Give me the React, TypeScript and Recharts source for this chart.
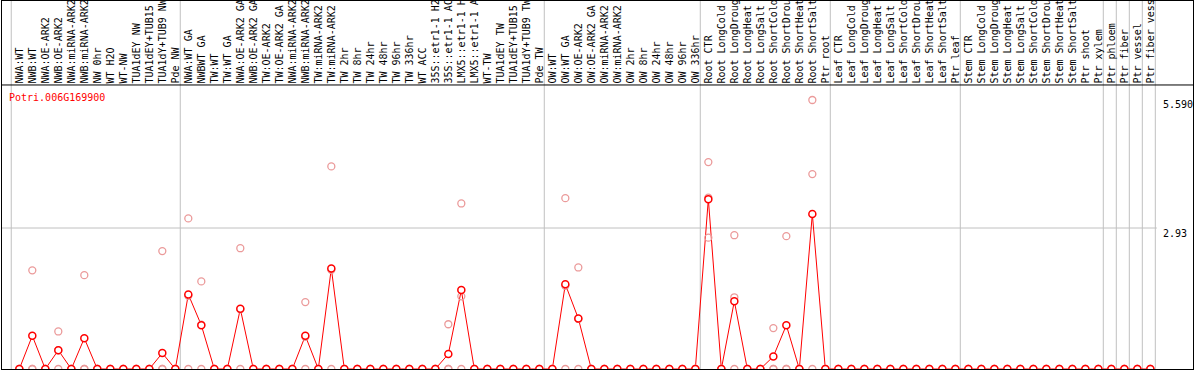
import React from "react";
import { LineChart, Line, XAxis, YAxis, ReferenceLine } from "recharts";

const FONT = '"DejaVu Sans Mono", "Liberation Mono", monospace';
const GENE = "Potri.006G169900";

// sample labels, grouped as in the header
const nwLabels = [
  "NWA:WT", "NWB:WT", "NWA:OE-ARK2", "NWB:OE-ARK2", "NWA:miRNA-ARK2", "NWB:miRNA-ARK2",
  "NW 0hr", "WT H2O", "WT-NW", "TUA1dEY NW", "TUA1dEY+TUB15", "TUA1dY+TUB9 NW", "Pde NW",
];
const twLabels = [
  "NWA:WT GA", "NWBWT GA", "TW:WT", "TW:WT GA", "NWA:OE-ARK2 GA", "NWB:OE-ARK2 GA",
  "TW:OE-ARK2", "TW:OE-ARK2 GA", "NWA:miRNA-ARK2", "NWB:miRNA-ARK2", "TW:miRNA-ARK2",
  "TW:miRNA-ARK2", "TW 2hr", "TW 8hr", "TW 24hr", "TW 48hr", "TW 96hr", "TW 336hr",
  "WT ACC", "35S::etr1-1 H2O", "35S::etr1-1 ACC", "LMX5::etr1-1 H2O", "LMX5::etr1-1 ACC",
  "WT-TW", "TUA1dEY TW", "TUA1dEY+TUB15", "TUA1dY+TUB9 TW", "Pde TW",
];
const owLabels = [
  "OW:WT", "OW:WT GA", "OW:OE-ARK2", "OW:OE-ARK2 GA", "OW:miRNA-ARK2", "OW:miRNA-ARK2",
  "OW 2hr", "OW 8hr", "OW 24hr", "OW 48hr", "OW 96hr", "OW 336hr",
];
const rootLabels = [
  "Root CTR", "Root LongCold", "Root LongDrought", "Root LongHeat", "Root LongSalt",
  "Root ShortCold", "Root ShortDrought", "Root ShortHeat", "Root ShortSalt", "Ptr root",
];
const leafLabels = [
  "Leaf CTR", "Leaf LongCold", "Leaf LongDrought", "Leaf LongHeat", "Leaf LongSalt",
  "Leaf ShortCold", "Leaf ShortDrought", "Leaf ShortHeat", "Leaf ShortSalt", "Ptr leaf",
];
const stemLabels = [
  "Stem CTR", "Stem LongCold", "Stem LongDrought", "Stem LongHeat", "Stem LongSalt",
  "Stem ShortCold", "Stem ShortDrought", "Stem ShortHeat", "Stem ShortSalt", "Ptr shoot",
];
const tissueLabels = ["Ptr xylem", "Ptr phloem", "Ptr fiber", "Ptr vessel", "Ptr fiber vessel"];

// mean expression per sample
const nwMeans = [0, 0.69, 0, 0.39, 0, 0.64, 0, 0, 0, 0, 0, 0.33, 0];
const twMeans = [
  1.55, 0.91, 0, 0, 1.25, 0, 0, 0, 0, 0.69, 0, 2.09,
  0, 0, 0, 0, 0, 0, 0, 0,
  0.31, 1.64, 0, 0, 0, 0, 0, 0,
];
const owMeans = [0, 1.76, 1.05, 0, 0, 0, 0, 0, 0, 0, 0, 0];
const rootMeans = [3.53, 0, 1.41, 0, 0, 0.26, 0.91, 0, 3.22, 0];
const leafMeans = [0, 0, 0, 0, 0, 0, 0, 0, 0, 0];
const stemMeans = [0, 0, 0, 0, 0, 0, 0, 0, 0, 0];
const tissueMeans = [0, 0, 0, 0, 0];

// replicate values by sample index (others are all zero)
const replicates: Record<number, number[]> = {
  1: [2.05, 0, 0],
  3: [0.78, 0.39, 0],
  5: [1.95, 0, 0],
  11: [2.45, 0, 0],
  13: [3.13, 1.52, 0],
  14: [1.82, 0.92, 0],
  17: [2.51, 1.24, 0],
  22: [1.39, 0.67, 0],
  24: [4.21, 2.06, 0],
  33: [0.93, 0, 0],
  34: [3.44, 1.51, 0],
  42: [3.55, 1.73, 0],
  43: [2.11, 1.04, 0],
  53: [4.3, 2.73, 3.56],
  55: [2.78, 1.49, 0],
  58: [0.85, 0, 0],
  59: [2.76, 0, 0],
  61: [5.59, 4.05, 0],
};

// first sample of each boxed group in the header
const groupStarts = [0, 13, 41, 53, 63, 73, 84, 85, 86, 87, 88];

const yTicks = [0, 2.93, 5.59];
const yTickLabels = ["0", "2.93", "5.590"];

const sampleLabels = [
  ...nwLabels, ...twLabels, ...owLabels, ...rootLabels, ...leafLabels, ...stemLabels, ...tissueLabels,
];
const means = [
  ...nwMeans, ...twMeans, ...owMeans, ...rootMeans, ...leafMeans, ...stemMeans, ...tissueMeans,
];

const data = means.map((mean, i) => {
  const r = replicates[i] || [0, 0, 0];
  return { i, mean, r0: r[0], r1: r[1], r2: r[2] };
});
const indices = data.map((d) => d.i);

const X_DOMAIN: [number, number] = [-1.408, 90.28];
const Y_MAX = 7.668; // plot runs through the header band
const HEADER_LINE = 5.902;
const GRID_END = 87.5;

const RED = "#ff0000";
const PINK = "#eb9a9a";
const GRAY = "#c0c0c0";

function HeaderTick(props: any) {
  const { x, payload } = props;
  return (
    <g transform={`translate(${x + 3.5},83.5) rotate(-90)`}>
      <text x={0} y={0} fontFamily={FONT} fontSize={10} fill="#000">
        {sampleLabels[payload.value]}
      </text>
    </g>
  );
}

function ValueTick(props: any) {
  const { y, payload } = props;
  const k = yTicks.indexOf(payload.value);
  const dy = payload.value === 0 ? -3 : 8.5;
  return (
    <text x={1163} y={y + dy} fontFamily={FONT} fontSize={10} fill="#000">
      {yTickLabels[k]}
    </text>
  );
}

const meanDot = { r: 3.5, stroke: RED, strokeWidth: 1.5, fill: "#fff" };
const repDot = { r: 3.5, stroke: PINK, strokeWidth: 1.3, fill: "none" };

export default function App() {
  return (
    <div style={{ position: "absolute", left: 0, top: 0, width: 1194, height: 370, background: "#fff" }}>
      <LineChart width={1194} height={370} data={data} margin={{ top: 0, right: 1, bottom: 1, left: 1 }}>
        <XAxis
          dataKey="i"
          type="number"
          orientation="top"
          mirror
          domain={X_DOMAIN}
          ticks={indices}
          interval={0}
          height={30}
          axisLine={false}
          tickLine={false}
          tick={HeaderTick}
        />
        <YAxis
          orientation="right"
          mirror
          domain={[0, Y_MAX]}
          ticks={yTicks}
          width={40}
          axisLine={false}
          tickLine={false}
          tickSize={0}
          tickMargin={0}
          tick={ValueTick}
        />
        {groupStarts.map((s) => (
          <ReferenceLine key={s} x={s - 0.62} stroke={GRAY} strokeWidth={1} />
        ))}
        <ReferenceLine
          segment={[{ x: X_DOMAIN[0], y: 2.93 }, { x: GRID_END, y: 2.93 }]}
          stroke={GRAY}
          strokeWidth={1}
        />
        <ReferenceLine y={HEADER_LINE} stroke="#000" strokeWidth={1} />
        {["r0", "r1", "r2"].map((k) => (
          <Line
            key={k}
            dataKey={k}
            stroke="none"
            dot={repDot}
            activeDot={false}
            isAnimationActive={false}
          />
        ))}
        <Line
          dataKey="mean"
          stroke={RED}
          strokeWidth={1}
          dot={meanDot}
          activeDot={false}
          isAnimationActive={false}
        />
      </LineChart>
      <svg
        width={1194}
        height={370}
        style={{ position: "absolute", left: 0, top: 0, pointerEvents: "none" }}
      >
        <rect x={1.5} y={0.5} width={1192} height={369} fill="none" stroke="#000" strokeWidth={1} />
        <text x={9} y={101} fontFamily={FONT} fontSize={10} fill={RED}>
          {GENE}
        </text>
      </svg>
    </div>
  );
}
